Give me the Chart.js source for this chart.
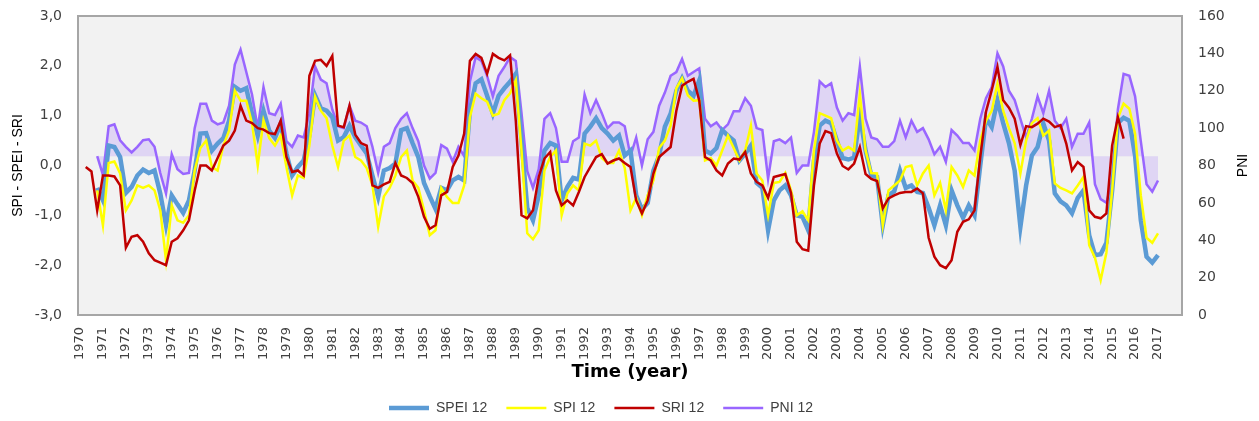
<!DOCTYPE html>
<html>
<head>
<meta charset="utf-8">
<script src="https://cdn.jsdelivr.net/npm/chart.js@4.4.0/dist/chart.umd.min.js"></script>
<style>
html,body{margin:0;padding:0;background:#ffffff;}
canvas{display:block;}
</style>
</head>
<body>
<canvas id="c" width="1259" height="421"></canvas>
<script>
// Quarterly time grid: first point 1970.25, step 0.25 year, last point 2017.0
const firstQuarter = 1970.25;
const quarterStep = 0.25;

const yearLabels = [1970,1971,1972,1973,1974,1975,1976,1977,1978,1979,1980,1981,1982,1983,1984,1985,1986,1987,1988,1989,1990,1991,1992,1993,1994,1995,1996,1997,1998,1999,2000,2001,2002,2003,2004,2005,2006,2007,2008,2009,2010,2011,2012,2013,2014,2015,2016,2017];

const spei12 = [
 null,null,-0.45,
 -0.7,0.4,0.37,0.17,
 -0.55,-0.43,-0.2,-0.08,
 -0.15,-0.1,-0.56,-1.2,
 -0.6,-0.78,-0.95,-0.7,
 -0.1,0.64,0.65,0.3,
 0.44,0.55,0.9,1.58,
 1.5,1.55,1.04,0.6,
 1.1,0.7,0.55,0.84,
 0.24,-0.2,-0.03,0.1,
 0.6,1.41,1.15,1.1,
 0.97,0.5,0.57,0.8,
 0.57,0.4,0.24,-0.2,
 -0.63,-0.1,-0.05,0.04,
 0.71,0.75,0.45,0.17,
 -0.35,-0.62,-0.87,-0.45,
 -0.5,-0.3,-0.23,-0.3,
 1.1,1.65,1.73,1.4,
 1.04,1.4,1.55,1.68,
 1.84,0.5,-0.85,-1.1,
 -0.6,0.3,0.45,0.4,
 -0.7,-0.43,-0.25,-0.28,
 0.64,0.78,0.95,0.75,
 0.64,0.5,0.6,0.2,
 0.3,-0.6,-0.88,-0.75,
 -0.1,0.2,0.78,1.04,
 1.5,1.75,1.5,1.4,
 1.71,0.3,0.24,0.35,
 0.71,0.6,0.5,0.1,
 0.24,0.4,-0.35,-0.45,
 -1.3,-0.7,-0.5,-0.4,
 -0.6,-1.0,-1.03,-1.3,
 0.1,0.8,0.9,0.85,
 0.5,0.15,0.12,0.16,
 1.0,0.3,-0.2,-0.23,
 -1.2,-0.6,-0.52,-0.1,
 -0.45,-0.4,-0.53,-0.55,
 -0.85,-1.2,-0.8,-1.2,
 -0.5,-0.8,-1.05,-0.8,
 -1.0,0.0,0.95,0.77,
 1.31,0.85,0.45,-0.1,
 -1.23,-0.4,0.2,0.37,
 0.84,0.5,-0.56,-0.72,
 -0.8,-0.96,-0.65,-0.5,
 -1.4,-1.8,-1.78,-1.55,
 -0.5,0.85,0.96,0.9,
 0.2,-1.1,-1.83,-1.95,
 -1.8
];

const spi12 = [
 null,null,-0.5,
 -1.2,0.05,0.08,-0.16,
 -0.9,-0.7,-0.4,-0.45,
 -0.4,-0.5,-0.9,-1.9,
 -0.8,-1.1,-1.15,-1.0,
 -0.1,0.35,0.5,-0.03,
 -0.1,0.4,0.7,1.5,
 1.3,1.3,0.85,0.0,
 0.91,0.55,0.4,0.6,
 -0.03,-0.6,-0.2,-0.25,
 0.4,1.38,1.1,0.95,
 0.4,-0.03,0.5,0.6,
 0.17,0.1,-0.05,-0.4,
 -1.23,-0.62,-0.45,-0.2,
 0.17,0.3,-0.3,-0.45,
 -0.9,-1.4,-1.3,-0.45,
 -0.63,-0.75,-0.75,-0.4,
 0.97,1.44,1.35,1.28,
 1.0,1.04,1.31,1.45,
 1.71,0.3,-1.36,-1.48,
 -1.3,-0.1,0.17,0.3,
 -1.0,-0.56,-0.4,-0.5,
 0.44,0.4,0.5,0.15,
 0.05,0.05,0.3,-0.05,
 -0.9,-0.65,-1.0,-0.6,
 -0.3,0.35,0.5,0.8,
 1.55,1.75,1.41,1.3,
 1.31,0.1,0.15,0.0,
 0.3,0.6,0.35,0.1,
 0.3,0.8,-0.16,-0.3,
 -1.0,-0.35,-0.33,-0.15,
 -0.5,-1.0,-0.92,-1.1,
 0.3,1.05,1.0,0.95,
 0.5,0.3,0.37,0.3,
 1.44,0.3,-0.15,-0.16,
 -1.2,-0.5,-0.4,-0.3,
 -0.03,0.0,-0.4,-0.16,
 0.0,-0.6,-0.35,-0.9,
 -0.03,-0.2,-0.43,-0.1,
 -0.2,0.5,0.9,1.1,
 1.64,1.1,0.75,0.45,
 -0.16,0.5,0.85,0.95,
 0.6,0.7,-0.36,-0.45,
 -0.5,-0.56,-0.4,-0.23,
 -1.6,-1.85,-2.3,-1.75,
 -0.5,0.95,1.24,1.14,
 0.64,-0.6,-1.45,-1.55,
 -1.36
];

const sri12 = [
 -0.03,-0.12,-0.9,
 -0.2,-0.2,-0.22,-0.4,
 -1.65,-1.43,-1.4,-1.53,
 -1.76,-1.9,-1.95,-2.0,
 -1.53,-1.46,-1.3,-1.1,
 -0.5,0.0,0.0,-0.1,
 0.15,0.4,0.5,0.7,
 1.2,0.9,0.85,0.75,
 0.72,0.65,0.63,0.9,
 0.17,-0.13,-0.1,-0.2,
 1.8,2.1,2.12,2.0,
 2.2,0.8,0.77,1.2,
 0.62,0.45,0.4,-0.4,
 -0.45,-0.38,-0.33,0.05,
 -0.2,-0.25,-0.35,-0.63,
 -1.03,-1.27,-1.2,-0.6,
 -0.53,-0.03,0.2,0.64,
 2.1,2.24,2.16,1.84,
 2.24,2.16,2.11,2.21,
 0.9,-1.0,-1.06,-0.9,
 -0.23,0.14,0.27,-0.5,
 -0.8,-0.7,-0.8,-0.53,
 -0.23,-0.03,0.17,0.23,
 0.04,0.1,0.14,0.05,
 -0.03,-0.7,-0.96,-0.7,
 -0.16,0.17,0.27,0.37,
 1.1,1.6,1.68,1.74,
 1.3,0.17,0.1,-0.1,
 -0.2,0.04,0.14,0.12,
 0.27,-0.16,-0.33,-0.4,
 -0.65,-0.23,-0.2,-0.17,
 -0.55,-1.53,-1.68,-1.71,
 -0.4,0.44,0.69,0.65,
 0.24,-0.01,-0.08,0.04,
 0.37,-0.17,-0.27,-0.31,
 -0.86,-0.66,-0.6,-0.55,
 -0.53,-0.53,-0.46,-0.56,
 -1.45,-1.83,-2.0,-2.06,
 -1.9,-1.33,-1.13,-1.08,
 -0.9,0.17,1.08,1.51,
 1.98,1.31,1.16,0.94,
 0.41,0.79,0.77,0.84,
 0.94,0.88,0.77,0.81,
 0.44,-0.1,0.07,-0.03,
 -0.9,-1.03,-1.06,-0.96,
 0.4,0.97,0.54,null,
 null,null,null,null,
 null
];

const pni12 = [
 null,null,85,
 75,101,102,93.5,
 90,87,90,93.5,
 94,90,76,65,
 86,78,75.5,76,
 100,113,113,104,
 102,103,112,134,
 142,130,118,100,
 122,108,107,113,
 93,90,96,95,
 108,133,126,124,
 110,101,100,112,
 104,103,101,90,
 76,90,92,100,
 105,108,100,93,
 80,73,76,91,
 89,82,90,85,
 125,138,136,128,
 117,128,132.7,138,
 136,108,77,68,
 78,105,108,100,
 82,82,93,95,
 118,108,115,108,
 100,103,103,101,
 85,95,80,94,
 98,112,119,128,
 130,137,128,130,
 132,105,101,103,
 99,102,109,109,
 116,112,100,99,
 73,93,94,92,
 95,76,80,80,
 98,125,122,124,
 111,104,108,107,
 133,105,95,94,
 90,90,93,104,
 95,104,98,100,
 94,86,90,82,
 99,96,92,92,
 88,105,116,122,
 140,133,120,115,
 105,95,105,117,
 108,120,104,100,
 105,90,97,97,
 103,70,62,60,
 72,110,129,128,
 117,93,70,66,
 72
];

const pniBaseline = 85;

function toPoints(arr){
  return arr.map((v,i)=>({x: firstQuarter + i*quarterStep, y: v}));
}

const tickFont = {family:'DejaVu Sans', size:14};
const tickColor = '#404040';

const framePlugin = {
  id:'frame',
  beforeDraw(chart){
    const {ctx, chartArea:a} = chart;
    ctx.save();
    ctx.fillStyle = '#f2f2f2';
    ctx.fillRect(a.left, a.top, a.right-a.left, a.bottom-a.top);
    ctx.restore();
  },
  afterDatasetsDraw(chart){
    const {ctx, chartArea:a} = chart;
    ctx.save();
    ctx.strokeStyle = '#a6a6a6';
    ctx.lineWidth = 2;
    ctx.strokeRect(a.left, a.top, a.right-a.left, a.bottom-a.top);
    ctx.restore();
  },
  afterDraw(chart){
    const ctx = chart.ctx;
    ctx.save();
    ctx.translate(1243.5, (chart.chartArea.top + chart.chartArea.bottom)/2);
    ctx.rotate(-Math.PI/2);
    ctx.fillStyle = '#000000';
    ctx.font = '14px "Liberation Sans"';
    ctx.textAlign = 'center';
    ctx.textBaseline = 'middle';
    ctx.fillText('PNI', 0, 0);
    ctx.restore();
  },
  afterLayout(chart){
    const l = chart.legend;
    if (l) { l.right -= 57; l.top = 382; }
  }
};

function fixVertical(s, w){
  s.width = w;
  s.paddingTop = 0;
  s.paddingBottom = 0;
}

new Chart(document.getElementById('c'), {
  type:'line',
  data:{
    datasets:[
      {label:'SPEI 12', data:toPoints(spei12), borderColor:'#5b9bd5', backgroundColor:'#5b9bd5', borderWidth:4.5, yAxisID:'y', order:2, fill:false},
      {label:'SPI 12', data:toPoints(spi12), borderColor:'#ffff00', backgroundColor:'#ffff00', borderWidth:2.5, yAxisID:'y', order:1, fill:false},
      {label:'SRI 12', data:toPoints(sri12), borderColor:'#c00000', backgroundColor:'#c00000', borderWidth:2.5, yAxisID:'y', order:0, fill:false},
      {label:'PNI 12', data:toPoints(pni12), borderColor:'#9966ff', backgroundColor:'rgba(175,140,250,0.28)', borderWidth:2.5, yAxisID:'y1', order:3, fill:{value:pniBaseline}}
    ]
  },
  options:{
    responsive:false,
    animation:false,
    layout:{padding:{top:16,left:0,right:0,bottom:0}},
    elements:{point:{radius:0}, line:{tension:0}},
    plugins:{
      tooltip:{enabled:false},
      legend:{
        position:'bottom',
        labels:{
          usePointStyle:true, pointStyle:'line', pointStyleWidth:40,
          padding:19, color:'#404040',
          font:{family:'Liberation Sans', size:14},
          sort:(a,b)=>a.datasetIndex-b.datasetIndex
        }
      }
    },
    scales:{
      x:{
        type:'linear', min:1969.913, max:2018.046,
        grid:{display:false}, border:{display:false},
        afterBuildTicks:(s)=>{ s.ticks = yearLabels.map(v=>({value:v})); },
        ticks:{autoSkip:false, maxRotation:90, minRotation:90, padding:4, color:tickColor, font:{family:'DejaVu Sans', size:13}, callback:(v)=>String(v)},
        title:{display:true, text:'Time (year)', color:'#000000', font:{family:'DejaVu Sans', size:18, weight:'bold'}, padding:{top:0,bottom:-5}},
        afterFit:(s)=>{ s.height = 63; }
      },
      y:{
        position:'left', min:-3, max:3,
        grid:{display:false, drawTicks:false}, border:{display:false},
        ticks:{stepSize:1, padding:16, color:tickColor, font:tickFont, callback:(v)=>v.toFixed(1).replace('.',',')},
        title:{display:true, text:'SPI - SPEI - SRI', color:'#000000', font:{family:'Liberation Sans', size:14}, padding:{top:10,bottom:0}},
        afterFit:(s)=>fixVertical(s, 78)
      },
      y1:{
        position:'right', min:0, max:160,
        grid:{display:false, drawTicks:false}, border:{display:false},
        ticks:{stepSize:20, padding:16, color:tickColor, font:tickFont},
        afterFit:(s)=>fixVertical(s, 77)
      }
    }
  },
  plugins:[framePlugin]
});
</script>
</body>
</html>
